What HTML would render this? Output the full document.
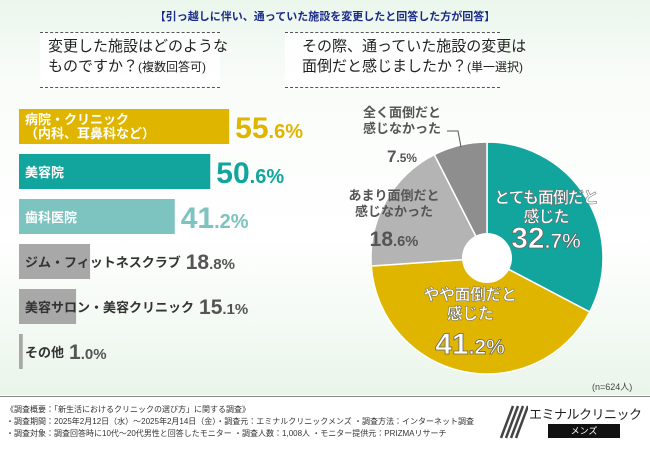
<!DOCTYPE html>
<html><head><meta charset="utf-8"><style>
body{margin:0;width:650px;height:450px;overflow:hidden;font-family:"Liberation Sans","Noto Sans CJK JP",sans-serif;}
#bg{position:absolute;left:0;top:0;width:650px;height:395px;background:linear-gradient(180deg,#eaf6ec 0%,#f9fcf9 20%,#ffffff 60%,#eaf5ea 100%);}
.t{position:absolute;white-space:nowrap;}
</style></head><body>
<div id="bg"></div>
<div class="t" style="left:0;width:650px;text-align:center;top:8px;font-size:11px;color:#1a2a8a;font-weight:bold">【引っ越しに伴い、通っていた施設を変更したと回答した方が回答】</div>
<div style="position:absolute;left:40px;top:32px;width:180px;height:54px;border-top:1px dashed #555;border-bottom:1px dashed #555;background:rgba(255,255,255,.8)"></div>
<div class="t" style="left:48px;top:37px;font-size:15px;line-height:20px;color:#222">変更した施設はどのような<br>ものですか？<span style="font-size:12px">(複数回答可)</span></div>
<div style="position:absolute;left:285px;top:32px;width:215px;height:54px;border-top:1px dashed #555;border-bottom:1px dashed #555;background:rgba(255,255,255,.8)"></div>
<div class="t" style="left:302px;top:37px;font-size:15px;line-height:20px;color:#222">その際、通っていた施設の変更は<br>面倒だと感じましたか？<span style="font-size:12px">(単一選択)</span></div>
<svg id="chart" width="650" height="450" style="position:absolute;left:0;top:0"></svg>
<div class="t" style="left:592px;top:380px;font-size:9px;color:#444">(n=624人)</div>
<div style="position:absolute;left:0;top:396px;width:650px;height:1px;background:#888"></div>
<div class="t" style="left:6px;top:404px;font-size:8px;line-height:12px;color:#333">《調査概要：「新生活におけるクリニックの選び方」に関する調査》<br>・調査期間：2025年2月12日（水）～2025年2月14日（金）・調査元：エミナルクリニックメンズ ・調査方法：インターネット調査<br>・調査対象：調査回答時に10代～20代男性と回答したモニター ・調査人数：1,008人 ・モニター提供元：PRIZMAリサーチ</div>
<svg width="30" height="36" style="position:absolute;left:498px;top:404px"><g stroke="#444" stroke-width="2.5"><line x1="8" y1="34" x2="20" y2="2"/><line x1="13" y1="34" x2="25" y2="2"/><line x1="18" y1="34" x2="30" y2="2"/><line x1="3" y1="34" x2="15" y2="2"/></g></svg>
<div class="t" style="left:529px;top:404px;font-size:13px;color:#222;letter-spacing:-0.5px">エミナルクリニック</div>
<div class="t" style="left:548px;top:424px;width:72px;height:14px;background:#111;color:#fff;font-size:9px;text-align:center;line-height:14px">メンズ</div>
<script>
const barLabels=["病院・クリニック\n（内科、耳鼻科など）","美容院","歯科医院","ジム・フィットネスクラブ","美容サロン・美容クリニック","その他"];
const barValues=[55.6,50.6,41.2,18.8,15.1,1.0];
const barColors=["#e0b500","#12a59e","#7dc3c0","#a8a8a8","#a8a8a8","#a8a8a8"];
const pieLabels=[["とても面倒だと","感じた"],["やや面倒だと","感じた"],["あまり面倒だと","感じなかった"],["全く面倒だと","感じなかった"]];
const pieValues=[32.7,41.2,18.6,7.5];
const pieColors=["#12a59e","#e0b500","#b4b4b4","#8e8e8e"];
const svg=document.getElementById('chart');
const NS='http://www.w3.org/2000/svg';
function mk(tag,attrs){const e=document.createElementNS(NS,tag);for(const k in attrs)e.setAttribute(k,attrs[k]);svg.appendChild(e);return e;}
const x0=19,pxPer=3.78,y0=109,step=45,bh=35;
const xs=v=>v*pxPer;
barValues.forEach((v,i)=>{
  const y=y0+i*step,w=Math.max(xs(v),3),big=i<3;
  const r=mk('rect',{x:x0,y:y,width:w,height:bh,fill:barColors[i]});
  
  
  const lines=barLabels[i].split('\n');
  lines.forEach((ln,j)=>{
    const t=mk('text',{x:x0+6,y:y+(lines.length>1?15+j*14:23),'font-size':13,fill:big?'#fff':'#333','font-weight':'bold'});
    t.textContent=ln;
    
    
  });
  let lx=x0+w+6;
  if(!big){const tmp=mk('text',{'font-size':13,'font-weight':'bold'});tmp.textContent=barLabels[i];const tw=tmp.getComputedTextLength();svg.removeChild(tmp);lx=Math.max(x0+w,x0+6+tw)+5;}
  const s=v.toFixed(1).split('.');
  const vt=mk('text',{x:lx,y:y+(big?29:25),fill:big?barColors[i]:'#555','font-weight':'bold'});
  
  
  const a=document.createElementNS(NS,'tspan');a.setAttribute('font-size',big?30:21);a.textContent=s[0];vt.appendChild(a);
  const b=document.createElementNS(NS,'tspan');b.setAttribute('font-size',big?20:15);b.textContent='.'+s[1]+'%';vt.appendChild(b);
});
const cx=487,cy=258,R=116,r0=25;
const total=pieValues.reduce((a,b)=>a+b,0);
let ang=-Math.PI/2;
const pt=(a,rr)=>[cx+rr*Math.cos(a),cy+rr*Math.sin(a)];
// [center x, first baseline, value baseline, color, value font size, label size, letter-spacing]
const labelPos=[[546,203,248,'#fff',30,16,-1],[470,300,354,'#fff',30,16,-0.5],[394,200,246,'#555',21,13,0],[402,117,162,'#555',17,13,0]];
pieValues.forEach((v,i)=>{
  const a1=ang+v/total*2*Math.PI;
  const [x1,y1]=pt(ang,R),[x2,y2]=pt(a1,R);
  const lg=(a1-ang)>Math.PI?1:0;
  const p=mk('path',{d:`M${cx},${cy}L${x1},${y1}A${R},${R} 0 ${lg} 1 ${x2},${y2}Z`,fill:pieColors[i],stroke:'#fff','stroke-width':1.5});
  
  
  ang=a1;
});
pieValues.forEach((v,i)=>{
  const [lx,ly,vy,col,fs,ls,sp]=labelPos[i];
  const inside=i<2;
  pieLabels[i].forEach((ln,j)=>{
    const t=mk('text',{x:lx,y:ly+j*(ls+3),'text-anchor':'middle','font-size':ls,'letter-spacing':sp,fill:col,'font-weight':'bold',stroke:inside?'#666':'none','stroke-width':inside?0.5:0});
    t.textContent=ln;
    
    
  });
  const s=v.toFixed(1).split('.');
  const vt=mk('text',{x:lx,y:vy,'text-anchor':'middle',fill:col,'font-weight':'bold',stroke:inside?'#666':'none','stroke-width':inside?0.8:0});
  
  
  const a=document.createElementNS(NS,'tspan');a.setAttribute('font-size',fs);a.textContent=s[0];vt.appendChild(a);
  const b=document.createElementNS(NS,'tspan');b.setAttribute('font-size',fs*0.7);b.textContent='.'+s[1]+'%';vt.appendChild(b);
});
const hole=mk('circle',{cx:cx,cy:cy,r:r0,fill:'#fff'});


const ld=mk('path',{d:'M447,131 L458,131 L461,147',fill:'none',stroke:'#555','stroke-width':1});


</script>
</body></html>
